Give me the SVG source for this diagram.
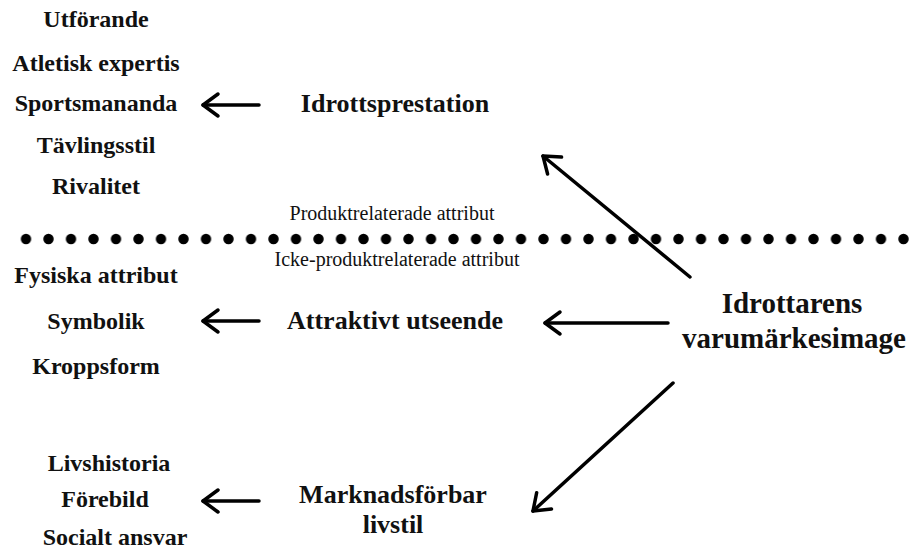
<svg xmlns="http://www.w3.org/2000/svg" width="909" height="550" viewBox="0 0 909 550">
  <defs>
    <style>
      .t { font-family: "Liberation Serif", "Times New Roman", serif; font-weight: bold; fill: #111; text-anchor: middle; }
      .item { font-size: 24px; }
      .mid { font-size: 26px; }
      .core { font-size: 29px; }
      .zone { font-family: "Liberation Serif", "Times New Roman", serif; font-size: 20px; fill: #111; text-anchor: middle; }
      .arrow { stroke: #000; stroke-width: 3.5; stroke-linecap: round; fill: none; marker-end: url(#chev); }
      .dot { fill: #000; }
    </style>
    <marker id="chev" viewBox="-20 -14 24 28" markerWidth="24" markerHeight="28" refX="0" refY="0" orient="auto" markerUnits="userSpaceOnUse">
      <path d="M-15,-11 L0,0 L-15,11" fill="none" stroke="#000" stroke-width="3.5" stroke-linecap="round" stroke-linejoin="round"/>
    </marker>
    <pattern id="dots" x="14.75" y="0" width="22.5" height="550" patternUnits="userSpaceOnUse">
      <circle cx="11.25" cy="239" r="5.2" class="dot"/>
    </pattern>
  </defs>

  <rect width="909" height="550" fill="#fff"/>

  <!-- dotted divider between product and non-product attributes -->
  <g id="divider">
    <rect x="14.75" y="230" width="900" height="18" fill="url(#dots)"/>
    <text class="zone" x="392" y="220">Produktrelaterade attribut</text>
    <text class="zone" x="397" y="266">Icke-produktrelaterade attribut</text>
  </g>

  <!-- connectors -->
  <g id="connectors">
    <line class="arrow" x1="690" y1="277" x2="543" y2="156"/>
    <line class="arrow" x1="668" y1="323" x2="545" y2="323"/>
    <line class="arrow" x1="673" y1="383" x2="533" y2="511"/>
    <line class="arrow" x1="259" y1="105" x2="203" y2="105"/>
    <line class="arrow" x1="259" y1="321" x2="203" y2="321"/>
    <line class="arrow" x1="259" y1="501" x2="203" y2="501"/>
  </g>

  <g id="brand-image">
    <text class="t core" x="792" y="313">Idrottarens</text>
    <text class="t core" x="794" y="348">varumärkesimage</text>
  </g>

  <g id="performance">
    <text class="t mid" x="395" y="112">Idrottsprestation</text>
  </g>

  <g id="performance-attributes">
    <text class="t item" x="96" y="27">Utförande</text>
    <text class="t item" x="96" y="71">Atletisk expertis</text>
    <text class="t item" x="96" y="111">Sportsmananda</text>
    <text class="t item" x="96" y="153">Tävlingsstil</text>
    <text class="t item" x="96" y="194">Rivalitet</text>
  </g>

  <g id="appearance">
    <text class="t mid" x="395" y="329">Attraktivt utseende</text>
  </g>

  <g id="appearance-attributes">
    <text class="t item" x="96" y="283">Fysiska attribut</text>
    <text class="t item" x="96" y="329">Symbolik</text>
    <text class="t item" x="96" y="374">Kroppsform</text>
  </g>

  <g id="lifestyle">
    <text class="t mid" x="393" y="503">Marknadsförbar</text>
    <text class="t mid" x="393" y="533">livstil</text>
  </g>

  <g id="lifestyle-attributes">
    <text class="t item" x="109" y="471">Livshistoria</text>
    <text class="t item" x="105" y="507">Förebild</text>
    <text class="t item" x="115" y="545">Socialt ansvar</text>
  </g>
</svg>
